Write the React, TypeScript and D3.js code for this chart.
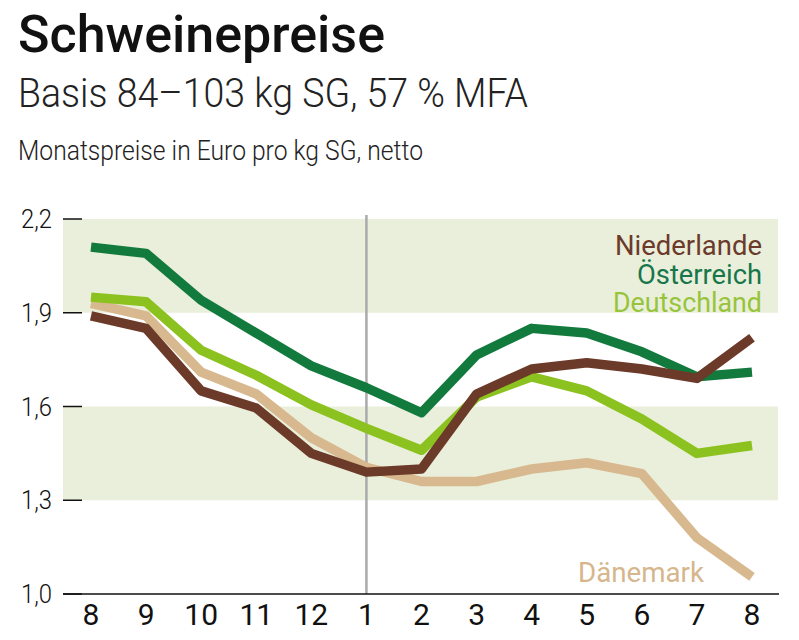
import React from 'react';
import * as d3 from 'd3';

// Monatspreise in Euro pro kg SG (8 .. 8 des Folgejahres)
const months = ['8', '9', '10', '11', '12', '1', '2', '3', '4', '5', '6', '7', '8'];
const oesterreich = [2.11, 2.09, 1.94, 1.835, 1.73, 1.66, 1.58, 1.765, 1.85, 1.835, 1.775, 1.695, 1.71];
const deutschland = [1.95, 1.935, 1.78, 1.7, 1.605, 1.53, 1.46, 1.63, 1.695, 1.65, 1.56, 1.45, 1.475];
const daenemark = [1.93, 1.89, 1.71, 1.64, 1.5, 1.405, 1.36, 1.36, 1.4, 1.42, 1.385, 1.18, 1.055];
const niederlande = [1.89, 1.85, 1.65, 1.595, 1.45, 1.39, 1.4, 1.64, 1.72, 1.74, 1.72, 1.69, 1.82];
const yTicks = [1.0, 1.3, 1.6, 1.9, 2.2];
const bands = [[1.3, 1.6], [1.9, 2.2]];

const FONT = 'Roboto, "Open Sans", "DejaVu Sans", sans-serif';

const App: React.FC = () => {
  const width = 799;
  const height = 640;

  const x = d3.scaleLinear().domain([0, months.length - 1]).range([91, 752]);
  const y = d3.scaleLinear().domain([1.0, 2.2]).range([594, 219]);

  const line = d3
    .line<number>()
    .x((_, i) => x(i))
    .y(d => y(d));

  // draw order: bottom first
  const series = [
    { values: daenemark, color: '#d8b98f' },
    { values: deutschland, color: '#8cc21f' },
    { values: oesterreich, color: '#137a3e' },
    { values: niederlande, color: '#6c3a28' },
  ];

  const fmt = (v: number) => v.toFixed(1).replace('.', ',');

  return (
    <svg
      width={width}
      height={height}
      style={{ position: 'absolute', left: 0, top: 0, background: '#fff' }}
      fontFamily={FONT}
    >
      {/* Header */}
      <text x={18} y={52} fontSize={52} fontWeight={500} fill="#111" textLength={367} lengthAdjust="spacingAndGlyphs">
        Schweinepreise
      </text>
      <text x={18} y={107} fontSize={41} fontWeight={300} fill="#222" textLength={510} lengthAdjust="spacingAndGlyphs">
        Basis 84–103 kg SG, 57 % MFA
      </text>
      <text x={18} y={160} fontSize={27} fontWeight={300} fill="#222" textLength={405} lengthAdjust="spacingAndGlyphs">
        Monatspreise in Euro pro kg SG, netto
      </text>

      {/* Background bands */}
      {bands.map(([lo, hi], i) => (
        <rect key={i} x={63} y={y(hi)} width={778 - 63} height={y(lo) - y(hi)} fill="#e9efda" />
      ))}

      {/* Y ticks */}
      {yTicks.map(t => (
        <g key={t}>
          <line x1={63} x2={82} y1={y(t)} y2={y(t)} stroke="#111" strokeWidth={1.5} />
          <text x={52} y={y(t) + 9} textAnchor="end" fontSize={26} fontWeight={300} fill="#111"
            textLength={31} lengthAdjust="spacingAndGlyphs">
            {fmt(t)}
          </text>
        </g>
      ))}

      {/* year divider */}
      <line x1={x(5)} x2={x(5)} y1={215} y2={y(1.0)} stroke="#aaaaaa" strokeWidth={2.5} />

      {/* Lines */}
      {series.map((s, i) => (
        <path key={i} d={line(s.values) || ''} fill="none" stroke={s.color} strokeWidth={9.5} strokeLinejoin="round" />
      ))}

      {/* X axis */}
      <line x1={63} x2={779} y1={y(1.0)} y2={y(1.0)} stroke="#111" strokeWidth={1.5} />
      {months.map((m, i) => (
        <text key={i} x={x(i)} y={625} textAnchor="middle" fontSize={30} fontWeight={400} fill="#111">
          {m}
        </text>
      ))}

      {/* Labels */}
      <text x={762} y={255} textAnchor="end" fontSize={27} fill="#6c3a2b" textLength={147} lengthAdjust="spacingAndGlyphs">
        Niederlande
      </text>
      <text x={762} y={284} textAnchor="end" fontSize={27} fill="#17764a" textLength={125} lengthAdjust="spacingAndGlyphs">
        Österreich
      </text>
      <text x={762} y={312} textAnchor="end" fontSize={27} fill="#97c43b" textLength={149} lengthAdjust="spacingAndGlyphs">
        Deutschland
      </text>
      <text x={578} y={582} fontSize={28} fill="#d6b68c" textLength={126} lengthAdjust="spacingAndGlyphs">
        Dänemark
      </text>
    </svg>
  );
};

export default App;
